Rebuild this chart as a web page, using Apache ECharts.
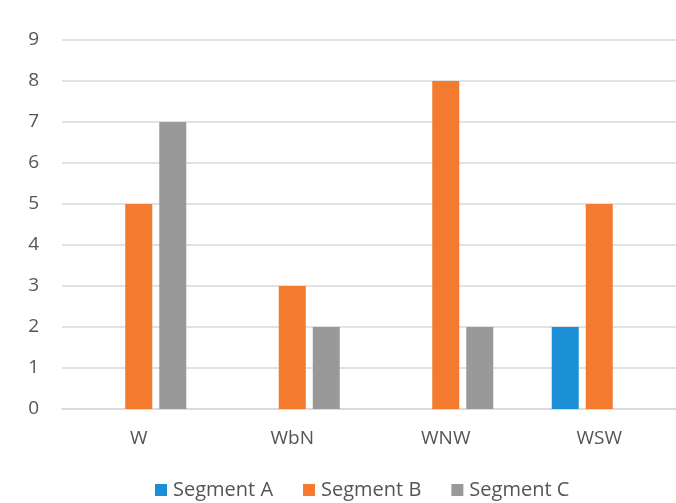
<!DOCTYPE html>
<html>
<head>
<meta charset="utf-8">
<script src="https://cdn.jsdelivr.net/npm/echarts@6/dist/echarts.min.js"></script>
<style>
  html, body { margin: 0; padding: 0; background: #fff; }
  #chart { width: 676px; height: 503px; }
</style>
</head>
<body>
<div id="chart"></div>
<script>
var categories = ['W', 'WbN', 'WNW', 'WSW'];
var segmentA = [0, 0, 0, 2];
var segmentB = [5, 3, 8, 5];
var segmentC = [7, 2, 2, 0];

var chart = echarts.init(document.getElementById('chart'));

var labelFont = '"Open Sans", "Noto Sans", sans-serif';

option = {
    color: ['#1a8fd6', '#f47a30', '#999999'],
    textStyle: { fontFamily: labelFont },
    legend: {
        bottom: -2,
        left: 150,
        itemWidth: 12,
        itemHeight: 12,
        itemGap: 30,
        icon: 'rect',
        textStyle: { color: '#555555', fontSize: 20, fontFamily: labelFont, padding: [0, 0, 0, 1] },
        data: ['Segment A', 'Segment B', 'Segment C']
    },
    grid: {
        left: 62,
        top: 40,
        width: 621,
        height: 369
    },
    xAxis: {
        type: 'category',
        data: categories,
        axisTick: { show: false },
        axisLine: { lineStyle: { color: '#d9d9d9', width: 1.5 } },
        axisLabel: { color: '#555555', fontSize: 19, margin: 20 }
    },
    yAxis: {
        type: 'value',
        min: 0,
        max: 9,
        interval: 1,
        axisLine: { show: false },
        axisTick: { show: false },
        axisLabel: { color: '#555555', fontSize: 19, margin: 23 },
        splitLine: { lineStyle: { color: '#d9d9d9', width: 1.5 } }
    },
    series: [
        { name: 'Segment A', type: 'bar', barWidth: 27, barGap: '26%', data: segmentA },
        { name: 'Segment B', type: 'bar', barWidth: 27, barGap: '26%', data: segmentB },
        { name: 'Segment C', type: 'bar', barWidth: 27, barGap: '26%', data: segmentC }
    ]
};

chart.setOption(option);
</script>
</body>
</html>
